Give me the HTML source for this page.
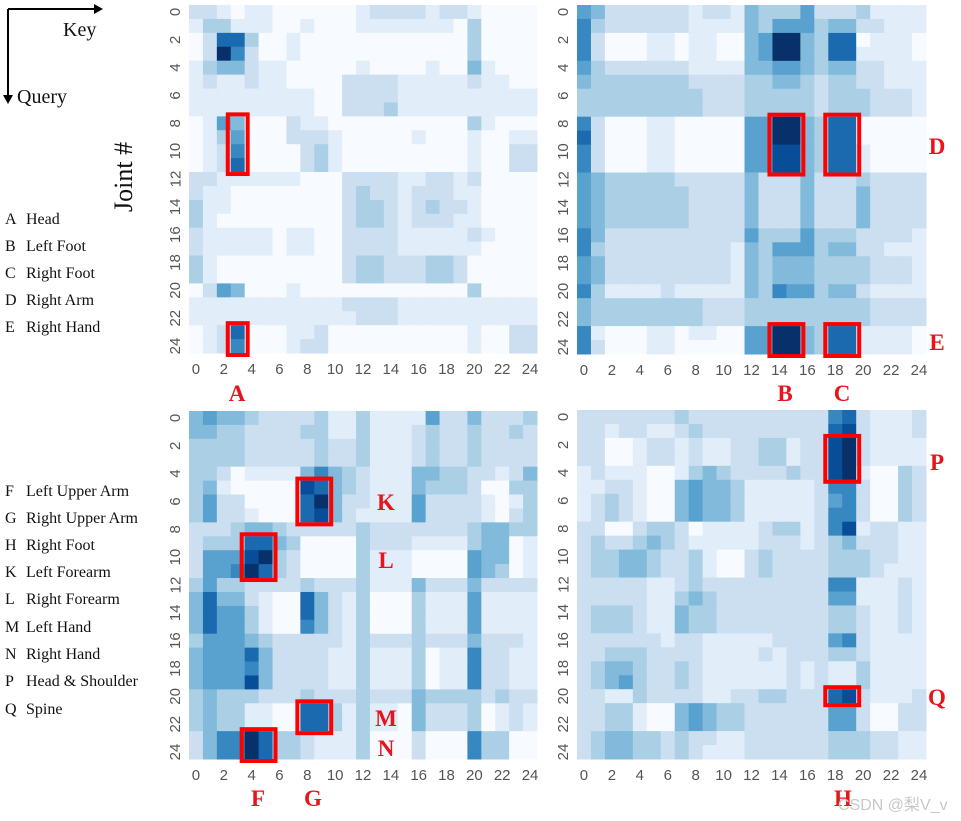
<!DOCTYPE html>
<html><head><meta charset="utf-8"><style>
body{margin:0;background:#fff;width:961px;height:821px;overflow:hidden}
svg{display:block}
.tk{font-family:"Liberation Sans",sans-serif;font-size:15px;fill:#555}
.lg{font-family:"Liberation Serif",serif;font-size:16px;fill:#111}
.rl{font-family:"Liberation Serif",serif;font-size:23px;font-weight:bold;fill:#e8141b}
</style></head><body>
<svg id="c" width="961" height="821"></svg>
<script>
const ticks=["0","2","4","6","8","10","12","14","16","18","20","22","24"];
const mTL=["2210110000001222212210000","1331110010001111111030000","0277300100000000000030000","0296200100000000000030000","1344211000001000010041000","1211211000022221111121100","1111111110022221111111111","1111111110022231111111111","0154000211000000000031000","0135000222100000100010011","0126000023100000000010022","0127000023100000000010022","2211111100022221122120000","2110000000023221222110000","3110000000023321232210000","3100000000023321222110000","2111110110022221111121000","2111110110022221111110000","3100000000023322233200000","3100000000023322233200000","0254000100000000000030000","1111111111122221111111111","1111111111112221111111111","0127000112000000000010022","0126000122000000000010022"];
const mTR=["5422222212214333522231111","6322222211114355534422111","6200011011004599437701110","6200011011004599437711110","5322222211114455434422111","4333333322223344323322111","3333333332223333323332221","3333333332223333323332221","6200011000005599437700000","7200011000005599437700000","6200011000005588437710000","6200011000005588437710000","5433333222224222422232222","5433333322224222422242222","5433333322224222422242222","5433333322224222422242222","6422222222225333533322221","6322222222214355534422111","5422222222214344433332221","5422222222214344433332221","6311112111114365534421111","4333333332223333333332222","4333333332223333333332222","6100011011005599437711110","6200011000005599437711110"];
const mBL=["4544322223113111152242223","4433222233113111232232232","3333222223223111232232222","3333222223223111232232222","3320111146432111443322124","3410000087432111433320033","3522000079422111522221013","3522100078421111522221023","2223443222223222222234433","2333774300003222111134401","2555893200003111000054401","2556973200003111000054301","3533222232223111422242222","4744210074213000311151111","4755310074213000311151111","4755310064213000311151111","3555432222213222322242221","4555742222113111301162211","4555642222113111301162211","4555842222113111301162211","3433322232223222433332322","3433110077313110422230121","3433110077313110422230121","2466973321113000200063300","2466973321113000200063300"];
const mBR=["2222222322222222226721112","2212211232222222227821112","2200122121122331228921111","2200122121122331228921111","1211100134322223228910032","1122100454431111126620032","1232100454431111125620032","1232100454431111126620032","2200233201111233126812211","2322343211111222123422211","2334432231002322223332211","2334432231002322223332111","2222211232222222226611121","2222211343222222225511121","2333211433222222223321121","2333211433222222223321121","2222221221111122225621111","2233322221111212223321111","2344322321111112121131111","2345322321111112121131111","2211322221122332227821112","2233100454332222225520022","2233100454332222225520022","2344332322112222223332211","2344332321112222223332211"];
const boxesTL=[[3,8,1,4],[3,23,1,2]];
const boxesTR=[[14,8,2,4],[18,8,2,4],[14,23,2,2],[18,23,2,2]];
const boxesBL=[[8,5,2,3],[4,9,2,3],[8,21,2,2],[4,23,2,2]];
const boxesBR=[[18,2,2,3],[18,20,2,1]];
const NS="http://www.w3.org/2000/svg";
const svg=document.getElementById('c');
const pal=["#f7fbff","#deebf7","#c6dbef","#9ecae1","#6baed6","#4292c6","#2171b5","#08519c","#08306b"];
function col(v){const t=v/9*(pal.length-1);const i=Math.min(Math.floor(t),pal.length-2),f=t-i;
const a=pal[i],b=pal[i+1];const c=k=>Math.round(parseInt(a.substr(k,2),16)*(1-f)+parseInt(b.substr(k,2),16)*f);
return `rgb(${c(1)},${c(3)},${c(5)})`;}
function mk(tag,at,parent){const e=document.createElementNS(NS,tag);for(const k in at)e.setAttribute(k,at[k]);(parent||svg).appendChild(e);return e;}
function panel(name,m,x0,y0,W,boxes){
 const g=mk('g',{});
 
 
 const cw=W/25;
 const sx=c=>x0+c*cw, sy=r=>y0+r*cw;
 m.forEach((row,r)=>{for(let c=0;c<25;c++){
  const e=mk('rect',{x:sx(c),y:sy(r),width:cw+0.5,height:cw+0.5,fill:col(+row[c])},g);
  
  
 }});
 ticks.forEach(t=>{const v=+t;
  const tx=mk('text',{x:sx(v)+cw/2,y:y0+W+21,'text-anchor':'middle',class:'tk'},g);tx.textContent=t;
  
  
  const cy=sy(v)+cw/2;
  const ty=mk('text',{x:x0-14,y:cy,'text-anchor':'middle',class:'tk',transform:`rotate(-90 ${x0-14} ${cy})`,dy:'0.35em'},g);ty.textContent=t;
  
  
 });
 boxes.forEach(b=>{
  const e=mk('rect',{x:sx(b[0])-3,y:sy(b[1])-2,width:b[2]*cw+6,height:b[3]*cw+4,fill:'none',stroke:'#ff0000','stroke-width':4},g);
  
  
 });
}
panel('heatmap-top-left',mTL,189,5,348,boxesTL);
panel('heatmap-top-right',mTR,577,5,349,boxesTR);
panel('heatmap-bottom-left',mBL,189,411,348,boxesBL);
panel('heatmap-bottom-right',mBR,577,410,349,boxesBR);
</script>
<svg style="position:absolute;left:0;top:0" width="961" height="821">
 <g stroke="#000" stroke-width="2" fill="#000">
  <line x1="8" y1="9" x2="96" y2="9"/><polygon points="103,9 94,4 94,14" stroke="none"/>
  <line x1="8" y1="9" x2="8" y2="96"/><polygon points="8,104 3,95 13,95" stroke="none"/>
 </g>
 <text x="63" y="36" class="lg" style="font-size:20px">Key</text>
 <text x="17" y="103" class="lg" style="font-size:20px">Query</text>
 <text x="0" y="0" class="lg" style="font-size:26px" transform="translate(132 212) rotate(-90)">Joint #</text>
 <g class="lg">
  <text x="5" y="224" class="lg">A</text><text x="26" y="224" class="lg">Head</text>
  <text x="5" y="251" class="lg">B</text><text x="26" y="251" class="lg">Left Foot</text>
  <text x="5" y="278" class="lg">C</text><text x="26" y="278" class="lg">Right Foot</text>
  <text x="5" y="305" class="lg">D</text><text x="26" y="305" class="lg">Right Arm</text>
  <text x="5" y="332" class="lg">E</text><text x="26" y="332" class="lg">Right Hand</text>
 </g>
 <g>
  <text x="5" y="496" class="lg">F</text><text x="26" y="496" class="lg">Left Upper Arm</text>
  <text x="5" y="523" class="lg">G</text><text x="26" y="523" class="lg">Right Upper Arm</text>
  <text x="5" y="550" class="lg">H</text><text x="26" y="550" class="lg">Right Foot</text>
  <text x="5" y="577" class="lg">K</text><text x="26" y="577" class="lg">Left Forearm</text>
  <text x="5" y="604" class="lg">L</text><text x="26" y="604" class="lg">Right Forearm</text>
  <text x="5" y="632" class="lg">M</text><text x="26" y="632" class="lg">Left Hand</text>
  <text x="5" y="659" class="lg">N</text><text x="26" y="659" class="lg">Right Hand</text>
  <text x="5" y="686" class="lg">P</text><text x="26" y="686" class="lg">Head &amp; Shoulder</text>
  <text x="5" y="714" class="lg">Q</text><text x="26" y="714" class="lg">Spine</text>
 </g>
 <g text-anchor="middle">
  <text x="237" y="401" class="rl">A</text><text x="785" y="401" class="rl">B</text><text x="842" y="401" class="rl">C</text>
  <text x="937" y="154" class="rl">D</text><text x="937" y="350" class="rl">E</text>
  <text x="386" y="510" class="rl">K</text><text x="386" y="568" class="rl">L</text>
  <text x="386" y="726" class="rl">M</text><text x="386" y="756" class="rl">N</text>
  <text x="258" y="806" class="rl">F</text><text x="313" y="806" class="rl">G</text>
  <text x="937" y="470" class="rl">P</text><text x="937" y="705" class="rl">Q</text>
  <text x="843" y="806" class="rl">H</text>
 </g>
 <text x="838" y="810" style="font-family:'Liberation Sans','Noto Sans CJK SC',sans-serif;font-size:16px;fill:#c8c8c8">CSDN @梨V_v</text>
</svg>
</body></html>
